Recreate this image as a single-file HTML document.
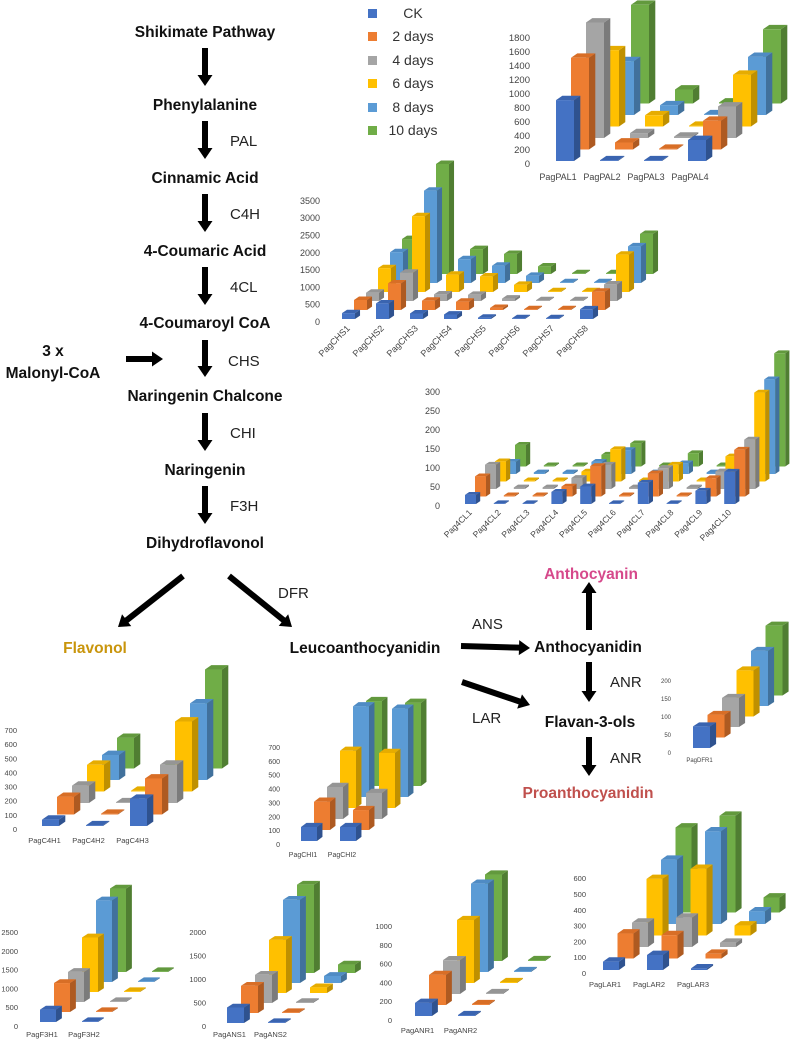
<!DOCTYPE html>
<html><head><meta charset="utf-8">
<style>
html,body{margin:0;padding:0;background:#fff;}
svg{display:block;font-family:"Liberation Sans",sans-serif;}
.cmp{font-weight:bold;font-size:15.5px;fill:#111;}
.enz{font-size:15px;fill:#222;}
.tick{font-family:"Liberation Sans",sans-serif;fill:#444;}
</style></head>
<body>
<svg id="fig" width="790" height="1041" viewBox="0 0 790 1041" xmlns="http://www.w3.org/2000/svg">
<g>
<text class="cmp" x="205" y="37" text-anchor="middle">Shikimate Pathway</text>
<text class="cmp" x="205" y="110" text-anchor="middle">Phenylalanine</text>
<text class="cmp" x="205" y="183" text-anchor="middle">Cinnamic Acid</text>
<text class="cmp" x="205" y="256" text-anchor="middle">4-Coumaric Acid</text>
<text class="cmp" x="205" y="328" text-anchor="middle">4-Coumaroyl CoA</text>
<text class="cmp" x="205" y="401" text-anchor="middle">Naringenin Chalcone</text>
<text class="cmp" x="205" y="475" text-anchor="middle">Naringenin</text>
<text class="cmp" x="205" y="548" text-anchor="middle">Dihydroflavonol</text>
<text class="cmp" x="53" y="356" text-anchor="middle">3 x</text>
<text class="cmp" x="53" y="378" text-anchor="middle">Malonyl-CoA</text>
<text class="enz" x="230" y="146">PAL</text>
<text class="enz" x="230" y="219">C4H</text>
<text class="enz" x="230" y="292">4CL</text>
<text class="enz" x="228" y="366">CHS</text>
<text class="enz" x="230" y="438">CHI</text>
<text class="enz" x="230" y="511">F3H</text>
<text class="enz" x="278" y="598">DFR</text>
<text class="cmp" x="95" y="653" text-anchor="middle" style="fill:#C9950C">Flavonol</text>
<text class="cmp" x="365" y="653" text-anchor="middle">Leucoanthocyanidin</text>
<text class="enz" x="472" y="629">ANS</text>
<text class="cmp" x="588" y="652" text-anchor="middle">Anthocyanidin</text>
<text class="cmp" x="591" y="579" text-anchor="middle" style="fill:#D6498B">Anthocyanin</text>
<text class="enz" x="472" y="723">LAR</text>
<text class="cmp" x="590" y="727" text-anchor="middle">Flavan-3-ols</text>
<text class="enz" x="610" y="687">ANR</text>
<text class="enz" x="610" y="763">ANR</text>
<text class="cmp" x="588" y="798" text-anchor="middle" style="fill:#C0504D">Proanthocyanidin</text>
</g>
<g id="arrows"></g>
<g>
<rect x="368" y="9" width="9" height="9" fill="#4472C4"/>
<rect x="368" y="32" width="9" height="9" fill="#ED7D31"/>
<rect x="368" y="56" width="9" height="9" fill="#A5A5A5"/>
<rect x="368" y="79" width="9" height="9" fill="#FFC000"/>
<rect x="368" y="103" width="9" height="9" fill="#5B9BD5"/>
<rect x="368" y="126" width="9" height="9" fill="#70AD47"/>
<g font-size="14" fill="#333" text-anchor="middle">
<text x="413" y="18">CK</text><text x="413" y="41">2 days</text><text x="413" y="65">4 days</text>
<text x="413" y="88">6 days</text><text x="413" y="112">8 days</text><text x="413" y="135">10 days</text>
</g>
</g>
<g id="charts"></g>
</svg>
<script>
// ---- data ----
const PAL_CATS=["PagPAL1","PagPAL2","PagPAL3","PagPAL4"];
const PAL_CK=[870,10,5,300];
const PAL_D2=[1310,100,10,410];
const PAL_D4=[1650,70,20,450];
const PAL_D6=[1090,160,5,740];
const PAL_D8=[770,140,10,830];
const PAL_D10=[1410,200,15,1060];
const PAL_TICKS=[0,200,400,600,800,1000,1200,1400,1600,1800];

const CHS_CATS=["PagCHS1","PagCHS2","PagCHS3","PagCHS4","PagCHS5","PagCHS6","PagCHS7","PagCHS8"];
const CHS_CK=[170,450,160,130,40,10,10,280];
const CHS_D2=[290,770,270,240,60,15,20,530];
const CHS_D4=[240,820,190,180,70,20,20,480];
const CHS_D6=[690,2190,500,450,210,15,20,1080];
const CHS_D8=[890,2670,690,500,210,20,15,1060];
const CHS_D10=[1010,3180,720,580,220,25,20,1160];
const CHS_TICKS=[0,500,1000,1500,2000,2500,3000,3500];

const CL_CATS=["Pag4CL1","Pag4CL2","Pag4CL3","Pag4CL4","Pag4CL5","Pag4CL6","Pag4CL7","Pag4CL8","Pag4CL9","Pag4CL10"];
const CL_CK=[24,2,2,32,46,2,56,2,35,85];
const CL_D2=[53,3,3,26,80,3,61,3,48,123];
const CL_D4=[64,4,4,29,64,4,55,4,46,130];
const CL_D6=[53,3,3,26,85,3,44,3,66,234];
const CL_D8=[32,4,4,32,63,4,28,4,5,249];
const CL_D10=[57,3,3,31,61,3,35,3,4,298];
const CL_TICKS=[0,50,100,150,200,250,300];

const C4H_CATS=["PagC4H1","PagC4H2","PagC4H3"];
const C4H_CK=[45,3,193];
const C4H_D2=[125,5,255];
const C4H_D4=[123,5,271];
const C4H_D6=[189,5,495];
const C4H_D8=[177,0,542];
const C4H_D10=[217,0,700];
const C4H_TICKS=[0,100,200,300,400,500,600,700];

const CHI_CATS=["PagCHI1","PagCHI2"];
const CHI_CK=[101,101];
const CHI_D2=[204,144];
const CHI_D4=[231,188];
const CHI_D6=[413,397];
const CHI_D8=[654,637];
const CHI_D10=[613,600];
const CHI_TICKS=[0,100,200,300,400,500,600,700];

const F3H_CATS=["PagF3H1","PagF3H2"];
const F3H_CK=[330,20];
const F3H_D2=[770,20];
const F3H_D4=[800,20];
const F3H_D6=[1450,20];
const F3H_D8=[2170,20];
const F3H_D10=[2220,20];
const F3H_TICKS=[0,500,1000,1500,2000,2500];

const ANS_CATS=["PagANS1","PagANS2"];
const ANS_CK=[330,10];
const ANS_D2=[580,10];
const ANS_D4=[600,20];
const ANS_D6=[1130,120];
const ANS_D8=[1770,150];
const ANS_D10=[1880,180];
const ANS_TICKS=[0,500,1000,1500,2000];

const ANR_CATS=["PagANR1","PagANR2"];
const ANR_CK=[140,10];
const ANR_D2=[320,10];
const ANR_D4=[360,10];
const ANR_D6=[670,10];
const ANR_D8=[940,10];
const ANR_D10=[920,10];
const ANR_TICKS=[0,200,400,600,800,1000];

const LAR_CATS=["PagLAR1","PagLAR2","PagLAR3"];
const LAR_CK=[53,95,10];
const LAR_D2=[158,148,30];
const LAR_D4=[154,186,27];
const LAR_D6=[358,422,63];
const LAR_D8=[407,586,80];
const LAR_D10=[538,612,95];
const LAR_TICKS=[0,100,200,300,400,500,600];

const DFR_CATS=["PagDFR1"];
const DFR_CK=[60];
const DFR_D2=[63];
const DFR_D4=[81];
const DFR_D6=[128];
const DFR_D8=[153];
const DFR_D10=[194];
const DFR_TICKS=[0,50,100,150,200];

// ---- drawing ----
const NS="http://www.w3.org/2000/svg";
const FACE=["#4472C4","#ED7D31","#A5A5A5","#FFC000","#5B9BD5","#70AD47"];
const SIDE=["#2F528F","#AE5A21","#7B7B7B","#BF9000","#41719C","#507E32"];
const TOP=["#3A64B0","#D86E26","#959595","#E6AC00","#4F8BC4","#62993D"];
function mk(tag,attrs,parent){const e=document.createElementNS(NS,tag);for(const k in attrs)e.setAttribute(k,attrs[k]);parent.appendChild(e);return e;}

function chart(name,cats,series,ticks,g){
  const root=document.getElementById('charts');
  const grp=mk('g',{},root);
  
  
  const dx=g.sdx*0.42, dy=-g.sdy*0.38;
  const yv=(v)=>v*g.scale;
  ticks.forEach(t=>{
    const tx=mk('text',{x:g.ax,y:g.ty0-yv(t)+3,'text-anchor':'end','font-size':g.fs,class:'tick'},grp);
    tx.textContent=t;
    
    
  });
  for(let s=series.length-1;s>=0;s--){
    for(let c=cats.length-1;c>=0;c--){
      const v=series[s][c];
      const x=g.x0+c*g.cdx+s*g.sdx, by=g.y0+s*g.sdy, h=Math.max(yv(v),0.8), top=by-h, w=g.bw;
      const b=mk('g',{},grp);
      
      
      mk('polygon',{points:`${x+w},${top} ${x+w+dx},${top-dy} ${x+w+dx},${by-dy} ${x+w},${by}`,fill:SIDE[s]},b);
      mk('polygon',{points:`${x},${top} ${x+dx},${top-dy} ${x+w+dx},${top-dy} ${x+w},${top}`,fill:TOP[s]},b);
      mk('rect',{x:x,y:top,width:w,height:h,fill:FACE[s]},b);
    }
  }
  cats.forEach((cn,c)=>{
    const cx=g.x0+c*g.cdx+g.bw/2+g.lx;
    let t;
    if(g.rot){
      t=mk('text',{x:cx,y:g.ly,'text-anchor':'end','font-size':g.cfs,class:'tick',transform:`rotate(-45 ${cx} ${g.ly})`},grp);
    } else {
      t=mk('text',{x:cx,y:g.ly,'text-anchor':'middle','font-size':g.cfs,class:'tick'},grp);
    }
    t.textContent=cn;
    
    
  });
}

chart('pal-chart',PAL_CATS,[PAL_CK,PAL_D2,PAL_D4,PAL_D6,PAL_D8,PAL_D10],PAL_TICKS,
 {x0:556,y0:161,cdx:44,sdx:15,sdy:-11.5,bw:18,scale:0.07,ax:530,ty0:164,fs:9.5,ly:180,lx:-7,cfs:9});
chart('chs-chart',CHS_CATS,[CHS_CK,CHS_D2,CHS_D4,CHS_D6,CHS_D8,CHS_D10],CHS_TICKS,
 {x0:342,y0:319,cdx:34,sdx:12,sdy:-9,bw:13,scale:0.0346,ax:320,ty0:322,fs:9,ly:329,lx:2,cfs:9,rot:true});
chart('4cl-chart',CL_CATS,[CL_CK,CL_D2,CL_D4,CL_D6,CL_D8,CL_D10],CL_TICKS,
 {x0:465,y0:504,cdx:28.8,sdx:10,sdy:-7.5,bw:11,scale:0.38,ax:440,ty0:506,fs:9,ly:513,lx:2,cfs:8.5,rot:true});
chart('c4h-chart',C4H_CATS,[C4H_CK,C4H_D2,C4H_D4,C4H_D6,C4H_D8,C4H_D10],C4H_TICKS,
 {x0:42,y0:826,cdx:44,sdx:15,sdy:-11.5,bw:17,scale:0.1414,ax:17,ty0:829,fs:7.5,ly:843,lx:-6,cfs:7.5});
chart('chi-chart',CHI_CATS,[CHI_CK,CHI_D2,CHI_D4,CHI_D6,CHI_D8,CHI_D10],CHI_TICKS,
 {x0:301,y0:841,cdx:39,sdx:13,sdy:-11,bw:16,scale:0.1386,ax:280,ty0:844,fs:7,ly:857,lx:-6,cfs:7});
chart('f3h-chart',F3H_CATS,[F3H_CK,F3H_D2,F3H_D4,F3H_D6,F3H_D8,F3H_D10],F3H_TICKS,
 {x0:40,y0:1022,cdx:42,sdx:14,sdy:-10,bw:16,scale:0.0376,ax:18,ty0:1026,fs:7.5,ly:1037,lx:-6,cfs:7.5});
chart('ans-chart',ANS_CATS,[ANS_CK,ANS_D2,ANS_D4,ANS_D6,ANS_D8,ANS_D10],ANS_TICKS,
 {x0:227,y0:1023,cdx:41,sdx:14,sdy:-10,bw:17,scale:0.047,ax:206,ty0:1026,fs:7.5,ly:1037,lx:-6,cfs:7.5});
chart('anr-chart',ANR_CATS,[ANR_CK,ANR_D2,ANR_D4,ANR_D6,ANR_D8,ANR_D10],ANR_TICKS,
 {x0:415,y0:1016,cdx:43,sdx:14,sdy:-11,bw:17,scale:0.094,ax:392,ty0:1020,fs:7.5,ly:1033,lx:-6,cfs:7.5});
chart('lar-chart',LAR_CATS,[LAR_CK,LAR_D2,LAR_D4,LAR_D6,LAR_D8,LAR_D10],LAR_TICKS,
 {x0:603,y0:970,cdx:44,sdx:14.5,sdy:-11.5,bw:16,scale:0.158,ax:586,ty0:973,fs:7.5,ly:987,lx:-6,cfs:7.5});
chart('dfr-chart',DFR_CATS,[DFR_CK,DFR_D2,DFR_D4,DFR_D6,DFR_D8,DFR_D10],DFR_TICKS,
 {x0:693,y0:748,cdx:0,sdx:14.5,sdy:-10.5,bw:17,scale:0.36,ax:671,ty0:752,fs:6,ly:762,lx:-2,cfs:6});

// ---- arrows ----
function arrow(x1,y1,x2,y2,name){
  const a=document.getElementById('arrows');
  const L=Math.hypot(x2-x1,y2-y1), ux=(x2-x1)/L, uy=(y2-y1)/L, px=-uy, py=ux;
  const hl=11, hw=7.5, sw=3;
  const bx=x2-ux*hl, by=y2-uy*hl;
  const pts=[[x1+px*sw,y1+py*sw],[bx+px*sw,by+py*sw],[bx+px*hw,by+py*hw],[x2,y2],[bx-px*hw,by-py*hw],[bx-px*sw,by-py*sw],[x1-px*sw,y1-py*sw]];
  const p=mk('polygon',{points:pts.map(q=>q.join(',')).join(' '),fill:'#000'},a);
  
  
}
arrow(205,48,205,86,'arrow-shikimate');
arrow(205,121,205,159,'arrow-pal');
arrow(205,194,205,232,'arrow-c4h');
arrow(205,267,205,305,'arrow-4cl');
arrow(205,340,205,377,'arrow-chs');
arrow(205,413,205,451,'arrow-chi');
arrow(205,486,205,524,'arrow-f3h');
arrow(126,359,163,359,'arrow-malonyl');
arrow(183,576,118,627,'arrow-flavonol');
arrow(229,576,292,627,'arrow-dfr');
arrow(461,646,530,648,'arrow-ans');
arrow(589,630,589,582,'arrow-anthocyanin');
arrow(462,682,530,705,'arrow-lar');
arrow(589,662,589,702,'arrow-anr-1');
arrow(589,737,589,776,'arrow-anr-2');
</script>
</body></html>
